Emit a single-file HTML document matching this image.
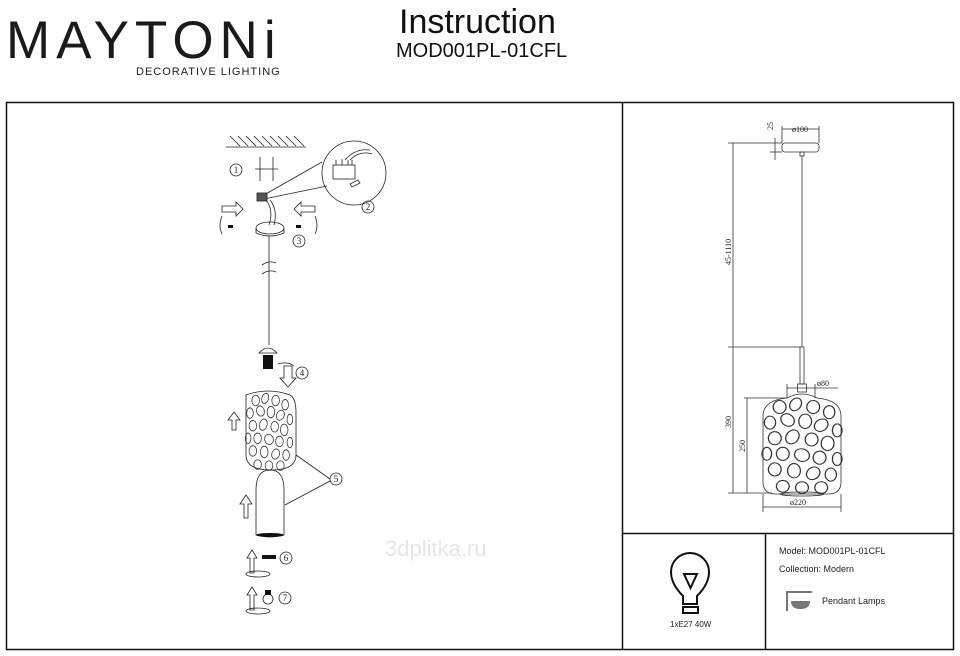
<!DOCTYPE html>
<html><head><meta charset="utf-8"><style>
html,body{margin:0;padding:0;background:#fff;}
body{width:960px;height:656px;overflow:hidden;position:relative;font-family:"Liberation Sans",sans-serif;}
.t{position:absolute;white-space:nowrap;}
</style></head><body>
<svg width="960" height="656" style="position:absolute;left:0;top:0" xmlns="http://www.w3.org/2000/svg">
<defs>
<g id="holes" fill="none" stroke="#333" stroke-width="0.8">
<ellipse cx="-14" cy="-30" rx="4" ry="5"/><ellipse cx="-4" cy="-32" rx="3.5" ry="5" transform="rotate(20 -4 -32)"/><ellipse cx="7" cy="-30" rx="4" ry="5"/><ellipse cx="17" cy="-26" rx="3.5" ry="5"/>
<ellipse cx="-20" cy="-18" rx="3.5" ry="5"/><ellipse cx="-9" cy="-20" rx="4" ry="5" transform="rotate(-25 -9 -20)"/><ellipse cx="2" cy="-19" rx="4" ry="5.5"/><ellipse cx="12" cy="-16" rx="4" ry="5" transform="rotate(30 12 -16)"/><ellipse cx="22" cy="-12" rx="3" ry="5"/>
<ellipse cx="-17" cy="-6" rx="4" ry="5"/><ellipse cx="-6" cy="-7" rx="4" ry="5.5" transform="rotate(20 -6 -7)"/><ellipse cx="6" cy="-5" rx="4" ry="5"/><ellipse cx="16" cy="-2" rx="4" ry="5.5"/>
<ellipse cx="-22" cy="6" rx="3" ry="5"/><ellipse cx="-12" cy="6" rx="4" ry="5"/><ellipse cx="0" cy="7" rx="4.5" ry="5" transform="rotate(-30 0 7)"/><ellipse cx="11" cy="9" rx="4" ry="5"/><ellipse cx="22" cy="10" rx="3" ry="5"/>
<ellipse cx="-17" cy="18" rx="4" ry="5"/><ellipse cx="-5" cy="19" rx="4" ry="5.5"/><ellipse cx="7" cy="21" rx="4" ry="5" transform="rotate(25 7 21)"/><ellipse cx="18" cy="22" rx="3.5" ry="5"/>
<ellipse cx="-12" cy="31" rx="4" ry="4.5"/><ellipse cx="0" cy="32" rx="4" ry="4.5"/><ellipse cx="12" cy="32" rx="4" ry="4.5"/>
</g>
</defs>
<g fill="none" stroke="#111">
<rect x="6.5" y="102.5" width="947" height="547" stroke-width="1.5"/>
<line x1="622.5" y1="102" x2="622.5" y2="650" stroke-width="1.5"/>
<line x1="622" y1="533.5" x2="954" y2="533.5" stroke-width="1.5"/>
<line x1="765.5" y1="533" x2="765.5" y2="650" stroke-width="1.5"/>
</g>
<!-- right dimension drawing -->
<g stroke="#333" fill="none" stroke-width="0.8">
<rect x="782" y="143" width="37" height="9" rx="3"/>
<rect x="800" y="152" width="4" height="4"/>
<line x1="802" y1="156" x2="802" y2="347"/>
<rect x="800" y="347" width="4" height="37"/>
<rect x="797.5" y="384" width="9" height="8"/>
<path d="M787 398 Q802 390 817 398 Q840 400 841 415 L841 482 Q841 493 830 494 L774 494 Q763 493 763 482 L763 415 Q764 400 787 398 Z"/>
<ellipse cx="802" cy="494" rx="22" ry="2"/>
<use href="#holes" transform="translate(802 446) scale(1.6 1.3)"/>
<line x1="733" y1="143" x2="733" y2="493"/>
<line x1="728" y1="143" x2="782" y2="143"/>
<line x1="728" y1="347" x2="800" y2="347"/>
<line x1="728" y1="493" x2="772" y2="493"/>
<line x1="747" y1="398" x2="747" y2="493"/>
<line x1="744" y1="398" x2="787" y2="398"/>
<line x1="775" y1="138" x2="775" y2="160"/>
<line x1="770" y1="152" x2="782" y2="152"/>
<line x1="782" y1="126" x2="782" y2="143"/><line x1="819" y1="126" x2="819" y2="143"/>
<line x1="782" y1="129" x2="819" y2="129"/>
<line x1="787" y1="384" x2="787" y2="398"/><line x1="815" y1="384" x2="815" y2="398"/>
<line x1="787" y1="388" x2="838" y2="388"/>
<line x1="763" y1="494" x2="763" y2="512"/><line x1="841" y1="494" x2="841" y2="512"/>
<line x1="763" y1="507" x2="841" y2="507"/>
</g>
<g font-family="Liberation Serif,serif" font-size="8" fill="#222">
<text x="792" y="132">ø100</text>
<text x="817" y="386">ø80</text>
<text x="790" y="505">ø220</text>
<text transform="translate(773 130) rotate(-90)">25</text>
<text transform="translate(731 265) rotate(-90)">45-1110</text>
<text transform="translate(731 428) rotate(-90)">390</text>
<text transform="translate(745 452) rotate(-90)">250</text>
</g>
<!-- left assembly -->
<g stroke="#222" fill="none" stroke-width="0.8">
<line x1="226" y1="147" x2="306" y2="147"/>
<path d="M230 136l10 10M238 136l10 10M246 136l10 10M254 136l10 10M262 136l10 10M270 136l10 10M278 136l10 10M286 136l10 10M294 136l10 10"/>
<circle cx="236" cy="170" r="6"/>
<line x1="255" y1="169" x2="278" y2="169"/><line x1="260" y1="157" x2="260" y2="181"/><line x1="273" y1="157" x2="273" y2="181"/>
<circle cx="354" cy="173" r="32"/>
<line x1="264" y1="195" x2="322" y2="162"/><line x1="264" y1="199" x2="327" y2="186"/>
<rect x="333" y="165" width="22" height="14"/><path d="M336 165v-5M342 165v-6M348 165v-5M352 165v-5M345 160 q10 -12 25 -10M350 160 q10 -10 22 -6"/>
<path d="M358 180l-8 4 2 3 8-4z"/>
<circle cx="368" cy="207" r="6"/>
<rect x="257" y="193" width="10" height="8" fill="#555"/>
<path d="M266 200 q8 10 3 25M270 200 q8 10 4 25"/>
<ellipse cx="270" cy="228" rx="14" ry="6"/><path d="M256 228v5q14 6 28 0v-5"/>
<circle cx="299" cy="241" r="6"/>
<path d="M222 206h14v-4l7 7-7 7v-4h-14z"/><path d="M315 206h-14v-4l-7 7 7 7v-4h14z"/>
<path d="M222 216q-4 10 0 18M315 216q4 10 0 18"/>
<line x1="269" y1="236" x2="269" y2="345"/>
<path d="M262 265q7-5 14-2M262 274q7-5 14-2"/>
<path d="M259 353q9-10 18 0z"/>
<circle cx="302" cy="373" r="6"/>
<path d="M284 366h8v12h4l-8 9-8-9h4z"/>
<path d="M278 364q10-3 16 2"/>
<path d="M246 395 q22-8 44 0 q6 3 6 18 v42 q0 15 -25 15 q-25 0 -25 -15 v-42 q0-15 0-18z"/>
<use href="#holes" transform="translate(269 432) scale(0.95 1.05)"/>
<path d="M232 430v-10h-4l6-8 6 8h-4v10z"/>
<path d="M256 490q0-20 14-20q14 0 14 20v45q-14 4-28 0z"/>
<path d="M244 518v-14h-4l6-9 6 9h-4v14z"/>
<line x1="296" y1="455" x2="330" y2="479"/><line x1="285" y1="505" x2="330" y2="481"/>
<circle cx="336" cy="479" r="6"/>
<path d="M250 573v-15h-3l5-8 5 8h-3v15z"/>
<ellipse cx="258" cy="574" rx="12" ry="3"/>
<circle cx="286" cy="558" r="6"/>
<path d="M250 610v-15h-3l5-8 5 8h-3v15z"/>
<ellipse cx="258" cy="611" rx="12" ry="3"/>
<circle cx="268" cy="599" r="5"/>
<circle cx="285" cy="598" r="6"/>
</g>
<g fill="#111"><rect x="263" y="355" width="10" height="14"/><rect x="262" y="555" width="14" height="4"/><rect x="265" y="590" width="6" height="5"/><rect x="228" y="225" width="5" height="3"/><rect x="296" y="225" width="5" height="3"/><ellipse cx="270" cy="535" rx="14" ry="2"/></g>
<g font-family="Liberation Serif,serif" font-size="9" fill="#222" text-anchor="middle">
<text x="236" y="173">1</text><text x="368" y="210">2</text><text x="299" y="244">3</text><text x="302" y="376">4</text><text x="336" y="482">5</text><text x="286" y="561">6</text><text x="285" y="601">7</text>
</g>
<!-- bulb icon -->
<g stroke="#111" stroke-width="2" fill="none">
<path d="M683 596 q-12-12 -12-24 a19 19 0 0 1 38 0 q0 12 -12 24 v8 h-14z"/>
<path d="M684 574h13l-6.5 14z"/>
<rect x="683" y="607" width="15" height="6"/>
</g>
<g fill="#777"><path d="M786 591h26v2h-24v18h-2z"/><path d="M791 601h19q0 8-9.5 8t-9.5-8z"/></g>
</svg>
<div class="t" style="left:6px;top:11px;font-size:53px;letter-spacing:6px;color:#1a1a1a;line-height:60px">MAYTONi</div>
<div class="t" style="left:136px;top:66px;font-size:11px;letter-spacing:1px;color:#222">DECORATIVE LIGHTING</div>
<div class="t" style="left:399px;top:3px;font-size:34px;color:#111">Instruction</div>
<div class="t" style="left:396px;top:40px;font-size:20px;color:#111">MOD001PL-01CFL</div>
<div class="t" style="left:385px;top:536px;font-size:22px;color:#e6e6e6">3dplitka.ru</div>
<div class="t" style="left:670px;top:620px;font-size:8px;color:#222">1xE27 40W</div>
<div class="t" style="left:779px;top:546px;font-size:9px;color:#222">Model: MOD001PL-01CFL</div>
<div class="t" style="left:779px;top:564px;font-size:9px;color:#222">Collection: Modern</div>
<div class="t" style="left:822px;top:596px;font-size:9px;color:#222">Pendant Lamps</div>
</body></html>
